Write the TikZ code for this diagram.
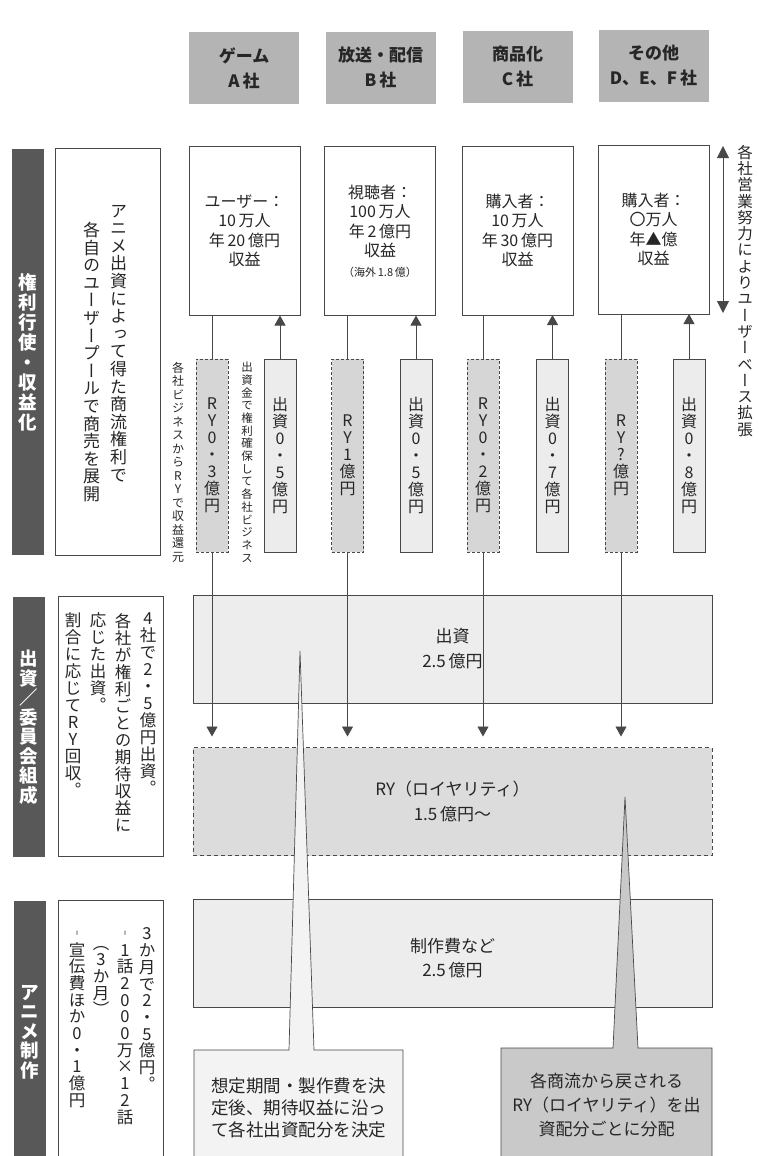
\documentclass[tikz,border=0pt]{standalone}
\usepackage{fontspec}
\usetikzlibrary{arrows.meta}
\setmainfont{Noto Sans CJK JP}
\newfontfamily\jpv[RawFeature=+vert]{Noto Sans CJK JP}
\newfontfamily\jph{Noto Sans CJK JP}

\definecolor{ink}{HTML}{262626}
\definecolor{edge}{HTML}{484848}
\definecolor{hdrfill}{HTML}{B4B4B4}
\definecolor{barfill}{HTML}{585858}
\definecolor{ryfill}{HTML}{D6D6D6}
\definecolor{infill}{HTML}{ECECEC}
\definecolor{boxfill}{HTML}{EDEDED}
\definecolor{ryboxfill}{HTML}{DCDCDC}
\definecolor{callR}{HTML}{C9C9C9}
\definecolor{callL}{HTML}{F3F3F3}

\makeatletter
\newcommand\vstr[2]{\vbox{\baselineskip=#1\lineskip=0pt\lineskiplimit=-100pt\relax\vstr@#2\relax}}
\def\vstr@#1{\ifx\relax#1\else\hbox to 1.1em{\hss#1\hss}\expandafter\vstr@\fi}
\makeatother

\tikzset{
  every node/.style={inner sep=0pt, outer sep=0pt, text=ink},
  hdr/.style={fill=hdrfill, minimum width=110pt, minimum height=72pt, align=center,
    font=\fontsize{17}{25}\selectfont\bfseries},
  ubox/.style={draw=edge, line width=0.8pt, fill=white, minimum width=111pt, minimum height=169pt,
    align=center, font=\fontsize{16}{19.5}\selectfont},
  rystrip/.style={draw=edge, line width=0.7pt, dash pattern=on 3pt off 2pt, fill=ryfill,
    minimum width=32pt, minimum height=193pt, font=\fontsize{16}{17}\jpv},
  instrip/.style={draw=edge, line width=0.7pt, fill=infill,
    minimum width=32pt, minimum height=193pt, font=\fontsize{16}{17}\jpv},
  sidebar/.style={fill=barfill, minimum width=32pt, text=white, font=\fontsize{18.5}{20}\jph\bfseries},
  tbox/.style={draw=edge, line width=0.7pt, fill=white, minimum width=105pt},
  vcol/.style={anchor=north, font=\fontsize{16.5}{17}\jpv},
  wide/.style={draw=edge, line width=0.7pt, minimum width=519pt, minimum height=108pt,
    align=center, font=\fontsize{17}{25}\selectfont},
  conn/.style={draw=edge, line width=0.8pt},
  arr/.style={conn, -{Triangle[width=11pt,length=10pt]}},
  dbl/.style={conn, {Triangle[width=12pt,length=12pt]}-{Triangle[width=12pt,length=12pt]}},
  callout/.style={draw=edge, line width=0.7pt, line join=miter},
}

\begin{document}
\begin{tikzpicture}[x=1pt, y=-1pt]
\clip (0,0) rectangle (758,1156);
\fill[white] (0,0) rectangle (758,1156);

% ---- headers
\node[hdr] (hA) at (244,68) {ゲーム\\A\hspace{3pt}社};
\node[hdr] (hB) at (380.5,68) {放送・配信\\B\hspace{3pt}社};
\node[hdr] (hC) at (517.5,67) {商品化\\C\hspace{3pt}社};
\node[hdr] (hD) at (653.5,66) {その他\\D、E、F\hspace{3pt}社};

% ---- left side bars
\node[sidebar, minimum height=406pt] (L1) at (28,352) {\vstr{20pt}{権利行使・収益化}};
\node[sidebar, minimum height=260pt] (L2) at (29,727) {\vstr{19.5pt}{出資／委員会組成}};
\node[sidebar, minimum height=262pt] (L3) at (30,1032) {\vstr{19.5pt}{アニメ制作}};

% ---- left text boxes
\node[tbox, minimum height=407pt] (T1) at (107.5,351.5) {};
\node[tbox, minimum height=260pt] (T2) at (110.5,726) {};
\node[tbox, minimum height=262pt] (T3) at (110.5,1031) {};

\node[vcol, font=\fontsize{17}{17}\jpv] (t1a) at (118.5,205) {\vstr{17.6pt}{アニメ出資によって得た商流権利で}};
\node[vcol, font=\fontsize{17}{17}\jpv] (t1b) at (91.5,222) {\vstr{17.6pt}{各自のユーザープールで商売を展開}};

\node[vcol] (t2a) at (148,613) {\vstr{17pt}{4社で2・5億円出資。}};
\node[vcol] (t2b) at (123,613) {\vstr{17pt}{各社が権利ごとの期待収益に}};
\node[vcol] (t2c) at (98,613) {\vstr{17pt}{応じた出資。}};
\node[vcol] (t2d) at (73,613) {\vstr{17pt}{割合に応じてRY回収。}};

\node[vcol] (t3a) at (147,928) {\vstr{16.7pt}{3か月で2・5億円。}};
\node[vcol] (t3b) at (125,931) {\vstr{16.7pt}{︲1話2000万×12話}};
\node[vcol] (t3c) at (101,946) {\vstr{16.7pt}{（3か月）}};
\node[vcol] (t3d) at (77,931) {\vstr{16.7pt}{︲宣伝費ほか0・1億円}};

% ---- company boxes
\node[ubox] (bA) at (244.5,231) {ユーザー：\\10\,万人\\年\,20\,億円\\収益};
\node[ubox] (bB) at (380,231) {視聴者：\\100\,万人\\年\,2\,億円\\収益\\{\fontsize{11}{14}\selectfont（海外\,1.8\,億）}};
\node[ubox] (bC) at (517.5,230.5) {購入者：\\10\,万人\\年\,30\,億円\\収益};
\node[ubox] (bD) at (653.5,229.5) {購入者：\\〇万人\\年▲億\\収益};

% ---- user base expansion
\coordinate (dTop) at (723,146);
\coordinate (dBot) at (723,313);
\draw[dbl] (dTop) -- (dBot);
\node[anchor=north, font=\fontsize{15.5}{16}\jpv] (ext) at (745,145) {\vstr{16.3pt}{各社営業努力によりユーザーベース拡張}};

% ---- strips
\node[rystrip] (rA) at (212,455.5) {\vstr{17pt}{RY0・3億円}};
\node[instrip] (iA) at (280,455.5) {\vstr{17pt}{出資0・5億円}};
\node[rystrip] (rB) at (347.5,455.5) {\vstr{17pt}{RY1億円}};
\node[instrip] (iB) at (416,455.5) {\vstr{17pt}{出資0・5億円}};
\node[rystrip] (rC) at (483,455.5) {\vstr{17pt}{RY0・2億円}};
\node[instrip] (iC) at (552.5,455.5) {\vstr{17pt}{出資0・7億円}};
\node[rystrip] (rD) at (621,455.5) {\vstr{17pt}{RY?億円}};
\node[instrip] (iD) at (689,455.5) {\vstr{17pt}{出資0・8億円}};

\node[anchor=north, font=\fontsize{12}{13}\jpv] (nA1) at (178,362) {\vstr{13.5pt}{各社ビジネスからRYで収益還元}};
\node[anchor=north, font=\fontsize{11.5}{12}\jpv] (nA2) at (247,362) {\vstr{12.7pt}{出資金で権利確保して各社ビジネス}};

% ---- wide boxes
\node[wide, fill=boxfill] (inv) at (452.5,649) {出資\\2.5\,億円};
\node[wide, fill=ryboxfill, dash pattern=on 4pt off 3pt] (ry) at (452.5,801.5) {RY（ロイヤリティ）\\1.5\,億円〜};
\node[wide, fill=boxfill] (prod) at (452.5,953) {};
\node[align=center, font=\fontsize{17}{24}\selectfont] (prodt) at (452.5,958) {制作費など\\2.5\,億円};

% ---- connectors
\foreach \s/\b in {rA/bA, rB/bB, rC/bC, rD/bD} {
  \draw[conn] (\b.south -| \s.north) -- (\s.north);
}
\foreach \s/\b in {iA/bA, iB/bB, iC/bC, iD/bD} {
  \draw[arr] (\s.north) -- (\s.north |- \b.south);
}
\coordinate (ryTop) at ([yshift=11pt]ry.north);
\foreach \s in {rA, rB, rC, rD} {
  \draw[arr] (\s.south) -- (\s.south |- ryTop);
}

% ---- callouts
\draw[callout, fill=callL] (194,1162) -- (194,1050) -- (289,1050) -- (300,651) -- (314,1050) -- (403,1050) -- (403,1162);
\node[align=center, font=\fontsize{17.5}{22}\selectfont] (cL) at (298.5,1108) {想定期間・製作費を決\\定後、期待収益に沿っ\\て各社出資配分を決定};

\draw[callout, fill=callR] (501,1162) -- (501,1048) -- (613,1048) -- (625,797) -- (638,1048) -- (712,1048) -- (712,1162);
\node[align=center, font=\fontsize{17}{24}\selectfont] (cR) at (606.5,1105) {各商流から戻される\\RY（ロイヤリティ）を出\\資配分ごとに分配};
\end{tikzpicture}
\end{document}
